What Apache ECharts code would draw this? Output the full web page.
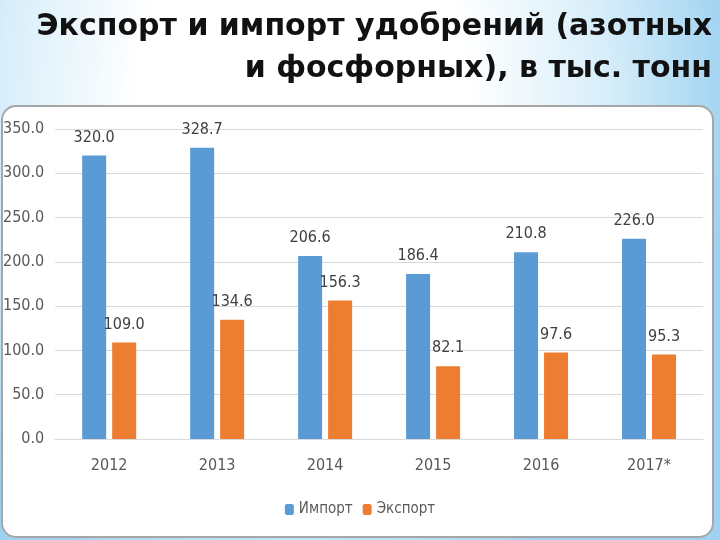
<!DOCTYPE html>
<html><head><meta charset="utf-8">
<script src="https://cdn.jsdelivr.net/npm/echarts@6/dist/echarts.min.js"></script>
<style>
html,body{margin:0;padding:0;width:720px;height:540px;overflow:hidden;}
body{background:radial-gradient(ellipse 60% 100% at 42% 18%, #ffffff 38%, #d8eefa 70%, #9fd2f1 100%);}
#c{width:720px;height:540px;}
</style></head>
<body><div id="c"></div>
<script>
const categories = ['2012','2013','2014','2015','2016','2017*'];
const importValues = [320.0, 328.7, 206.6, 186.4, 210.8, 226.0];
const exportValues = [109.0, 134.6, 156.3, 82.1, 97.6, 95.3];
const yTicks = [0, 50, 100, 150, 200, 250, 300, 350];
const titleLines = ['Экспорт и импорт удобрений (азотных', 'и фосфорных), в тыс. тонн'];

const chart = echarts.init(document.getElementById('c'), null, {renderer:'canvas'});
const font = '"Liberation Sans Narrow", "DejaVu Sans Condensed", "Liberation Sans", sans-serif';
const tfont = 'bold 30px "DejaVu Sans", sans-serif';
const lbl = {show:true, position:'top', color:'#404040', fontFamily:font, fontSize:16, distance:10,
  formatter: p => p.value.toFixed(1)};
chart.setOption({
  backgroundColor:'transparent',
  animation:false,
  graphic:[
    {type:'rect', shape:{x:2, y:106, width:711, height:431, r:14}, style:{fill:'#ffffff', stroke:'#a6a6a6', lineWidth:2}, z:-10},
    {type:'text', right:8, top:12, style:{text:titleLines[0], font:tfont, fill:'#111', textAlign:'right'}},
    {type:'text', right:8, top:54, style:{text:titleLines[1], font:tfont, fill:'#111', textAlign:'right'}}
  ],
  grid:{left:53, right:17, top:129, bottom:101, containLabel:false},
  legend:{bottom:18, left:'center', itemWidth:9, itemHeight:11, itemGap:10,
    textStyle:{color:'#595959', fontFamily:font, fontSize:15},
    data:['Импорт','Экспорт']},
  xAxis:{type:'category', data:categories,
    axisLine:{lineStyle:{color:'#d9d9d9'}}, axisTick:{show:false},
    axisLabel:{color:'#595959', fontFamily:font, fontSize:16, margin:19}},
  yAxis:{type:'value', min:0, max:350, interval:50,
    axisLine:{show:false}, axisTick:{show:false},
    splitLine:{lineStyle:{color:'#d9d9d9'}},
    axisLabel:{color:'#595959', fontFamily:font, fontSize:16, margin:11,
      formatter: v => yTicks.includes(v) ? v.toFixed(1) : ''}},
  series:[
    {name:'Импорт', type:'bar', data:importValues, barWidth:24, barGap:'25%', itemStyle:{color:'#5B9BD5'}, label:lbl},
    {name:'Экспорт', type:'bar', data:exportValues, barWidth:24, barGap:'25%', itemStyle:{color:'#ED7D31'}, label:lbl}
  ]
});
</script></body></html>
